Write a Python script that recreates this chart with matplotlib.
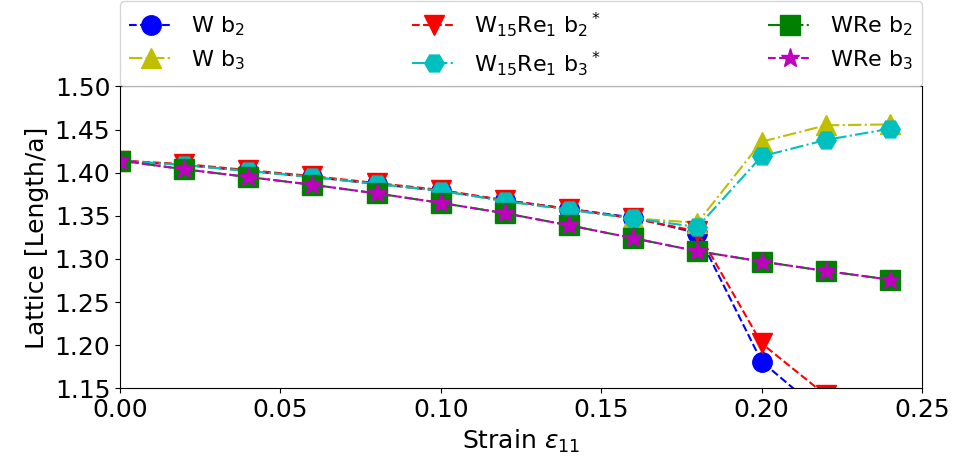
import numpy as np
import matplotlib
matplotlib.use("Agg")
import matplotlib.pyplot as plt

# strain values
strain = [0.00, 0.02, 0.04, 0.06, 0.08, 0.10, 0.12, 0.14, 0.16, 0.18, 0.20, 0.22, 0.24]

# lattice lengths
w_b2 = [1.414, 1.409, 1.402, 1.395, 1.387, 1.379, 1.368, 1.358, 1.348, 1.330, 1.181, 1.118, 1.080]
w_b3 = [1.414, 1.409, 1.402, 1.395, 1.387, 1.379, 1.367, 1.357, 1.347, 1.342, 1.436, 1.455, 1.456]
w15_b2 = [1.414, 1.410, 1.403, 1.396, 1.388, 1.380, 1.368, 1.358, 1.347, 1.332, 1.202, 1.142, 1.100]
w15_b3 = [1.414, 1.409, 1.402, 1.395, 1.387, 1.379, 1.367, 1.357, 1.347, 1.337, 1.419, 1.438, 1.451]
wre_b2 = [1.414, 1.404, 1.395, 1.386, 1.376, 1.365, 1.353, 1.339, 1.324, 1.309, 1.297, 1.286, 1.276]
wre_b3 = [1.414, 1.404, 1.395, 1.386, 1.376, 1.365, 1.353, 1.339, 1.324, 1.309, 1.297, 1.286, 1.276]

series = [
    (w_b2, "b", "--", "o", r"W b$_2$"),
    (w_b3, "y", "-.", "^", r"W b$_3$"),
    (w15_b2, "r", "--", "v", r"W$_{15}$Re$_1$ b$_2$$^*$"),
    (w15_b3, "c", "-.", "H", r"W$_{15}$Re$_1$ b$_3$$^*$"),
    (wre_b2, "g", "-.", "s", r"WRe b$_2$"),
    (wre_b3, "m", "--", "*", r"WRe b$_3$"),
]

fig = plt.figure(figsize=(9.56, 4.65), dpi=100)
ax = fig.add_axes([0.1255, 0.165, 0.839, 0.649])

for vals, col, ls, mk, lab in series:
    ax.plot(strain, vals, color=col, linestyle=ls, marker=mk, markersize=14,
            linewidth=1.5, label=lab)

ax.set_xlim(0, 0.25)
ax.set_ylim(1.15, 1.50)
ax.set_xticks(np.arange(0, 0.2501, 0.05))
ax.set_yticks(np.arange(1.15, 1.5001, 0.05))
ax.xaxis.set_major_formatter(matplotlib.ticker.FormatStrFormatter("%.2f"))
ax.yaxis.set_major_formatter(matplotlib.ticker.FormatStrFormatter("%.2f"))
ax.tick_params(labelsize=18)
ax.set_xlabel(r"Strain $\varepsilon_{11}$", fontsize=18)
ax.set_ylabel("Lattice [Length/a]", fontsize=18)

ax.legend(bbox_to_anchor=(0.0, 1.0, 1.0, 0.2), loc="lower left", mode="expand",
          ncol=3, fontsize=16, borderaxespad=0.0, labelspacing=0.45)

fig.savefig("out.png", dpi=100)
